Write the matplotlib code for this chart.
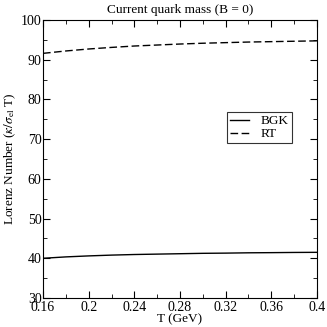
import matplotlib
matplotlib.use("Agg")
import matplotlib.pyplot as plt
from matplotlib.ticker import MultipleLocator

T = [0.16, 0.18, 0.20, 0.22, 0.24, 0.26, 0.28, 0.30, 0.32, 0.34, 0.36, 0.38, 0.40]
bgk = [40.0, 40.35, 40.6, 40.8, 40.95, 41.05, 41.15, 41.25, 41.3, 41.38, 41.42, 41.47, 41.5]
rt = [91.6, 92.2, 92.7, 93.1, 93.45, 93.7, 93.95, 94.15, 94.3, 94.45, 94.55, 94.65, 94.75]

plt.rcParams['font.family'] = ['Liberation Serif', 'DejaVu Serif']
plt.rcParams['mathtext.fontset'] = 'stix'
fig = plt.figure(figsize=(3.27, 3.27), dpi=100)
ax = fig.add_axes([43/327, 29/327, 274/327, 278/327])
ax.plot(T, bgk, color='black', lw=1.0, label='BGK')
ax.plot(T, rt, color='black', lw=1.0, ls=(0, (5.5, 2.5)), label='RT')
ax.set_xlim(0.16, 0.4)
ax.set_ylim(30, 100)
ax.xaxis.set_minor_locator(MultipleLocator(0.02))
ax.yaxis.set_major_locator(MultipleLocator(10))
ax.yaxis.set_minor_locator(MultipleLocator(5))
ax.set_xticks([0.16, 0.2, 0.24, 0.28, 0.32, 0.36, 0.4])
ax.set_xticklabels(['0.16', '0.2', '0.24', '0.28', '0.32', '0.36', '0.4'])
ax.tick_params(which='both', direction='in', top=True, right=True, labelsize=10)
ax.tick_params(axis='y', pad=1)
ax.tick_params(axis='x', pad=2)
ax.tick_params(which='major', length=5)
ax.tick_params(which='minor', length=3)
ax.set_xlabel('T (GeV)', fontsize=9.5, labelpad=0)
ax.set_ylabel(r'Lorenz Number ($\kappa/\sigma_{\rm el}$ T)', fontsize=9.5, labelpad=2)
ax.set_title('Current quark mass (B = 0)', fontsize=9.5, pad=5)
leg = ax.legend(loc='upper left', bbox_to_anchor=(0.672, 0.67), fontsize=9.5, frameon=True,
                fancybox=False, edgecolor='black', handlelength=1.4, borderpad=0.25,
                labelspacing=0.05, handletextpad=0.9, borderaxespad=0)
leg.get_frame().set_linewidth(0.8)
fig.savefig('out.png', dpi=100)
